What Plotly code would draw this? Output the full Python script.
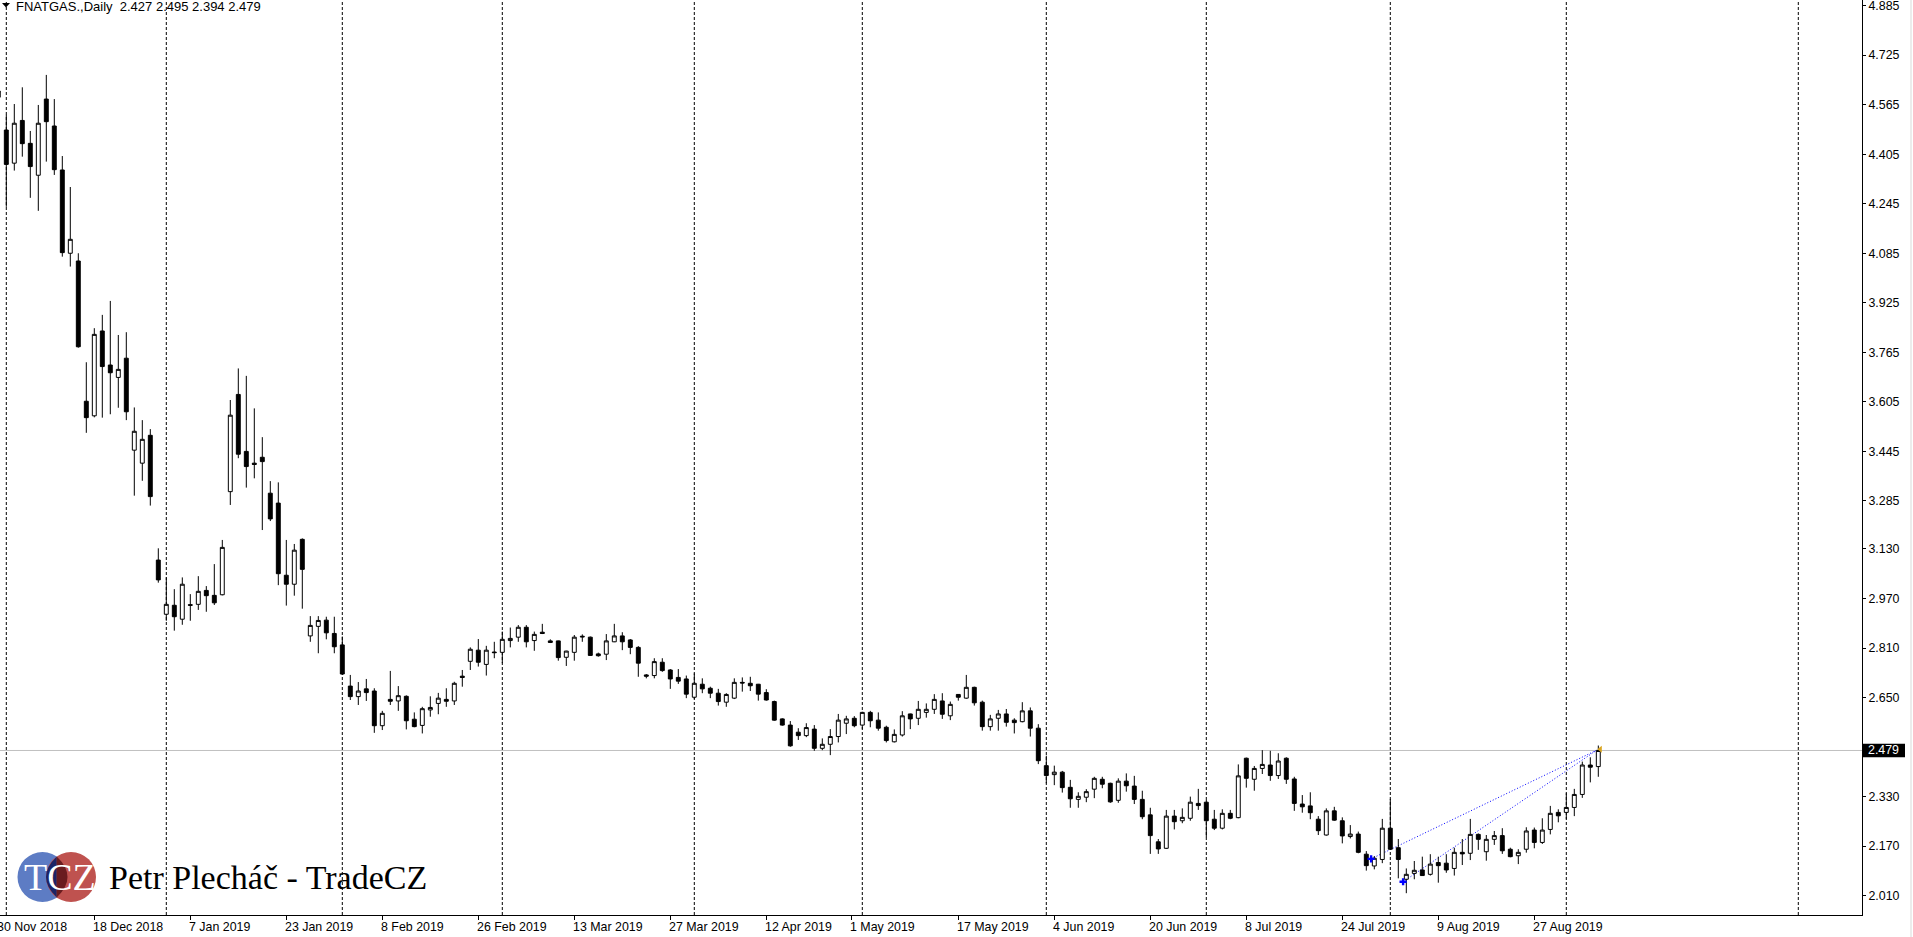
import plotly.graph_objects as go

# ---------------- data (bar index, OHLC) ----------------
FIRST_BAR = -1
OPEN = [4.589, 4.483, 4.376, 4.514, 4.440, 4.337, 4.583, 4.496, 4.354, 4.085, 4.060,
        3.607, 3.560, 3.834, 3.724, 3.684, 3.746, 3.449, 3.407, 3.497, 3.094,
        2.919, 2.948, 2.903, 2.950, 2.951, 2.996, 2.980, 2.982, 3.315, 3.629,
        3.445, 3.407, 3.426, 3.310, 3.278, 3.045, 3.016, 3.161, 2.849, 2.880,
        2.900, 2.857, 2.820, 2.687, 2.653, 2.678, 2.671, 2.559, 2.644, 2.639,
        2.654, 2.580, 2.560, 2.610, 2.631, 2.644, 2.639, 2.719, 2.767, 2.803,
        2.757, 2.797, 2.796, 2.834, 2.845, 2.877, 2.834, 2.861, 2.833, 2.833,
        2.780, 2.796, 2.848, 2.845, 2.791, 2.790, 2.830, 2.849, 2.836, 2.812,
        2.723, 2.721, 2.764, 2.739, 2.715, 2.710, 2.651, 2.693, 2.680, 2.664,
        2.635, 2.648, 2.699, 2.696, 2.693, 2.666, 2.637, 2.581, 2.561, 2.538,
        2.527, 2.548, 2.486, 2.499, 2.524, 2.567, 2.583, 2.561, 2.602, 2.577,
        2.554, 2.507, 2.529, 2.597, 2.583, 2.602, 2.612, 2.639, 2.591, 2.660,
        2.648, 2.683, 2.635, 2.556, 2.583, 2.597, 2.577, 2.572, 2.607, 2.551,
        2.430, 2.401, 2.409, 2.360, 2.321, 2.328, 2.354, 2.386, 2.373, 2.318,
        2.380, 2.364, 2.321, 2.271, 2.184, 2.163, 2.267, 2.252, 2.260, 2.308,
        2.312, 2.257, 2.228, 2.276, 2.262, 2.454, 2.386, 2.421, 2.432, 2.398,
        2.454, 2.387, 2.306, 2.300, 2.257, 2.206, 2.284, 2.252, 2.201, 2.209,
        2.144, 2.106, 2.127, 2.228, 2.165, 2.063, 2.082, 2.093, 2.079, 2.117,
        2.115, 2.098, 2.150, 2.147, 2.208, 2.152, 2.192, 2.204, 2.160, 2.139,
        2.160, 2.222, 2.182, 2.224, 2.279, 2.279, 2.295, 2.337, 2.432, 2.427]
HIGH = [4.650, 4.532, 4.567, 4.621, 4.480, 4.564, 4.661, 4.583, 4.399, 4.299, 4.085,
        3.733, 3.843, 3.886, 3.931, 3.821, 3.830, 3.587, 3.546, 3.517, 3.132,
        3.038, 3.000, 3.038, 2.984, 3.042, 3.010, 3.081, 3.159, 3.611, 3.713,
        3.689, 3.584, 3.491, 3.349, 3.345, 3.159, 3.146, 3.164, 2.913, 2.913,
        2.911, 2.911, 2.847, 2.723, 2.700, 2.710, 2.680, 2.607, 2.736, 2.687,
        2.657, 2.602, 2.620, 2.654, 2.665, 2.680, 2.701, 2.739, 2.812, 2.839,
        2.817, 2.830, 2.863, 2.876, 2.884, 2.884, 2.863, 2.888, 2.838, 2.834,
        2.801, 2.852, 2.854, 2.847, 2.795, 2.855, 2.888, 2.861, 2.839, 2.816,
        2.726, 2.777, 2.777, 2.742, 2.742, 2.721, 2.728, 2.712, 2.685, 2.678,
        2.664, 2.712, 2.715, 2.717, 2.694, 2.677, 2.640, 2.583, 2.574, 2.551,
        2.567, 2.561, 2.518, 2.548, 2.597, 2.591, 2.590, 2.604, 2.607, 2.602,
        2.559, 2.547, 2.606, 2.598, 2.639, 2.631, 2.661, 2.664, 2.637, 2.661,
        2.723, 2.685, 2.640, 2.594, 2.610, 2.613, 2.583, 2.635, 2.618, 2.564,
        2.462, 2.430, 2.413, 2.384, 2.344, 2.354, 2.394, 2.394, 2.375, 2.389,
        2.405, 2.397, 2.349, 2.294, 2.193, 2.287, 2.287, 2.292, 2.330, 2.355,
        2.319, 2.287, 2.289, 2.287, 2.434, 2.456, 2.429, 2.480, 2.478, 2.470,
        2.457, 2.394, 2.335, 2.344, 2.267, 2.292, 2.297, 2.263, 2.238, 2.217,
        2.154, 2.138, 2.258, 2.322, 2.193, 2.098, 2.122, 2.136, 2.144, 2.136,
        2.144, 2.165, 2.193, 2.258, 2.211, 2.206, 2.219, 2.228, 2.165, 2.160,
        2.231, 2.230, 2.260, 2.300, 2.289, 2.341, 2.355, 2.443, 2.457, 2.495]
LOW = [4.550, 4.235, 4.352, 4.397, 4.264, 4.222, 4.381, 4.338, 4.074, 4.042, 3.780,
       3.505, 3.555, 3.554, 3.565, 3.586, 3.546, 3.302, 3.350, 3.270, 3.021,
       2.898, 2.866, 2.885, 2.898, 2.933, 2.927, 2.949, 2.980, 3.272, 3.423,
       3.328, 3.358, 3.191, 3.220, 3.013, 2.947, 2.979, 2.937, 2.830, 2.793,
       2.838, 2.793, 2.724, 2.642, 2.626, 2.639, 2.536, 2.545, 2.626, 2.607,
       2.547, 2.554, 2.534, 2.588, 2.596, 2.620, 2.626, 2.685, 2.739, 2.750,
       2.721, 2.777, 2.761, 2.812, 2.830, 2.812, 2.801, 2.855, 2.826, 2.769,
       2.752, 2.769, 2.830, 2.785, 2.782, 2.771, 2.829, 2.803, 2.790, 2.717,
       2.712, 2.712, 2.733, 2.678, 2.694, 2.648, 2.645, 2.664, 2.648, 2.624,
       2.620, 2.645, 2.669, 2.671, 2.640, 2.640, 2.575, 2.559, 2.491, 2.513,
       2.522, 2.478, 2.480, 2.464, 2.505, 2.532, 2.554, 2.548, 2.554, 2.543,
       2.505, 2.505, 2.524, 2.548, 2.561, 2.585, 2.597, 2.581, 2.577, 2.640,
       2.646, 2.624, 2.543, 2.543, 2.543, 2.556, 2.534, 2.570, 2.524, 2.435,
       2.373, 2.367, 2.343, 2.294, 2.294, 2.312, 2.325, 2.357, 2.310, 2.310,
       2.346, 2.306, 2.257, 2.145, 2.145, 2.161, 2.224, 2.244, 2.252, 2.287,
       2.199, 2.222, 2.224, 2.257, 2.260, 2.359, 2.349, 2.403, 2.381, 2.387,
       2.371, 2.284, 2.278, 2.257, 2.206, 2.204, 2.252, 2.179, 2.195, 2.147,
       2.091, 2.095, 2.115, 2.158, 2.066, 2.018, 2.063, 2.074, 2.075, 2.052,
       2.084, 2.075, 2.109, 2.125, 2.158, 2.123, 2.174, 2.145, 2.134, 2.112,
       2.149, 2.163, 2.177, 2.208, 2.247, 2.257, 2.267, 2.326, 2.376, 2.394]
CLOSE = [4.609, 4.372, 4.505, 4.439, 4.365, 4.505, 4.510, 4.355, 4.087, 4.130, 3.783,
         3.554, 3.823, 3.719, 3.699, 3.710, 3.573, 3.510, 3.484, 3.299, 3.030,
         2.951, 2.911, 3.016, 2.948, 2.993, 2.979, 2.956, 3.135, 3.562, 3.436,
         3.396, 3.403, 3.412, 3.227, 3.050, 3.016, 3.126, 3.064, 2.883, 2.899,
         2.859, 2.814, 2.726, 2.653, 2.671, 2.666, 2.559, 2.599, 2.638, 2.656,
         2.575, 2.556, 2.614, 2.618, 2.648, 2.638, 2.696, 2.715, 2.806, 2.764,
         2.803, 2.795, 2.838, 2.841, 2.877, 2.830, 2.854, 2.857, 2.828, 2.779,
         2.800, 2.845, 2.846, 2.786, 2.785, 2.833, 2.849, 2.830, 2.812, 2.761,
         2.719, 2.766, 2.737, 2.710, 2.703, 2.661, 2.696, 2.678, 2.664, 2.637,
         2.660, 2.699, 2.697, 2.688, 2.661, 2.642, 2.577, 2.561, 2.494, 2.527,
         2.553, 2.486, 2.499, 2.524, 2.577, 2.581, 2.559, 2.602, 2.575, 2.551,
         2.511, 2.531, 2.591, 2.581, 2.612, 2.612, 2.644, 2.596, 2.628, 2.651,
         2.683, 2.633, 2.556, 2.581, 2.597, 2.570, 2.569, 2.607, 2.551, 2.446,
         2.398, 2.409, 2.359, 2.323, 2.331, 2.346, 2.389, 2.370, 2.313, 2.380,
         2.365, 2.321, 2.265, 2.204, 2.161, 2.267, 2.249, 2.263, 2.312, 2.301,
         2.252, 2.228, 2.276, 2.260, 2.397, 2.389, 2.421, 2.434, 2.398, 2.445,
         2.386, 2.308, 2.297, 2.278, 2.220, 2.284, 2.254, 2.203, 2.209, 2.150,
         2.107, 2.131, 2.228, 2.160, 2.127, 2.079, 2.092, 2.075, 2.112, 2.107,
         2.093, 2.150, 2.145, 2.208, 2.192, 2.192, 2.204, 2.155, 2.136, 2.150,
         2.219, 2.182, 2.222, 2.276, 2.268, 2.295, 2.337, 2.432, 2.425, 2.479]
BARS = list(range(FIRST_BAR, FIRST_BAR + len(OPEN)))

PRICE_TICKS = [4.885, 4.725, 4.565, 4.405, 4.245, 4.085, 3.925, 3.765, 3.605,
               3.445, 3.285, 3.130, 2.970, 2.810, 2.650, 2.330, 2.170, 2.010]
PRICE_TICK_LABELS = ["%.3f" % v for v in PRICE_TICKS]

DATE_LABELS = ["30 Nov 2018", "18 Dec 2018", "7 Jan 2019", "23 Jan 2019", "8 Feb 2019",
               "26 Feb 2019", "13 Mar 2019", "27 Mar 2019", "12 Apr 2019", "1 May 2019",
               "17 May 2019", "4 Jun 2019", "20 Jun 2019", "8 Jul 2019", "24 Jul 2019",
               "9 Aug 2019", "27 Aug 2019"]
DATE_LABEL_BARS = [-1, 11, 23, 35, 47, 59, 71, 83, 95, 105.6, 119, 131, 143, 155, 167, 179, 191]
MONTH_GRID_BARS = [0, 20, 42, 62, 86, 107, 130, 150, 173, 195, 224]

SYMBOL_TITLE = "FNATGAS.,Daily"
TRADE_OPEN_BARS = [170.6, 174.6]
TRADE_OPEN_PRICES = [2.129, 2.055]
TRADE_CLOSE_BAR = 198.8
TRADE_CLOSE_PRICE = 2.480
AUTHOR = "Petr Plecháč - TradeCZ"
LOGO_TEXT = "TCZ"

# ---------------- geometry ----------------
X_RANGE = [-0.7875, 231.9625]
Y_RANGE = [1.9476, 4.903]
PLOT_W, PLOT_H = 1862, 915
FONT = "Liberation Sans, Arial, sans-serif"
SERIF = "Liberation Serif, Times New Roman, serif"


def xp(bar):
    return (bar - X_RANGE[0]) / (X_RANGE[1] - X_RANGE[0])


def yp(price):
    return (price - Y_RANGE[0]) / (Y_RANGE[1] - Y_RANGE[0])


fig = go.Figure()
fig.add_trace(go.Candlestick(
    x=BARS, open=OPEN, high=HIGH, low=LOW, close=CLOSE,
    increasing=dict(line=dict(color="black", width=1), fillcolor="white"),
    decreasing=dict(line=dict(color="black", width=1), fillcolor="black"),
    whiskerwidth=0, showlegend=False, hoverinfo="skip"))

# trade open markers and close marker
fig.add_trace(go.Scatter(x=TRADE_OPEN_BARS, y=TRADE_OPEN_PRICES, mode="markers",
                         marker=dict(symbol="cross", size=6, color="#0000ff"),
                         showlegend=False, hoverinfo="skip"))
fig.add_trace(go.Scatter(x=[BARS[-1] + 0.25], y=[CLOSE[-1] + 0.004], mode="markers",
                         marker=dict(symbol="triangle-left", size=6, color="#DAA520"),
                         showlegend=False, hoverinfo="skip"))

shapes = []
# month grid lines
for b in MONTH_GRID_BARS:
    shapes.append(dict(type="line", xref="x", yref="paper", x0=b, x1=b, y0=0, y1=1,
                       line=dict(color="black", width=1, dash="3px,2px"), layer="below"))
# current price line
cur = CLOSE[-1]
shapes.append(dict(type="line", xref="paper", yref="y", x0=0, x1=1, y0=cur, y1=cur,
                   line=dict(color="#c0c0c0", width=1), layer="below"))
# trade lines
for ob, op in zip(TRADE_OPEN_BARS, TRADE_OPEN_PRICES):
    shapes.append(dict(type="line", xref="x", yref="y", x0=ob, y0=op,
                       x1=TRADE_CLOSE_BAR, y1=TRADE_CLOSE_PRICE,
                       line=dict(color="#0000ff", width=1, dash="1px,2px"), layer="below"))
# price label box
shapes.append(dict(type="rect", xref="paper", xsizemode="pixel", xanchor=1, x0=0.5, x1=43,
                   yref="paper", ysizemode="pixel", yanchor=yp(cur), y0=-6.7, y1=6.7,
                   fillcolor="black", line=dict(width=0)))
# header triangle
shapes.append(dict(type="path", xref="paper", xsizemode="pixel", xanchor=0,
                   yref="paper", ysizemode="pixel", yanchor=1,
                   path="M 2 -3 L 10 -3 L 6 -7.5 Z", fillcolor="black", line=dict(width=0)))
# window border on far right
shapes.append(dict(type="line", xref="paper", yref="paper", x0=1911 / PLOT_W, x1=1911 / PLOT_W,
                   y0=-22 / PLOT_H, y1=1, line=dict(color="#d9d9d9", width=1)))
# logo
logo = dict(xref="paper", xsizemode="pixel", xanchor=0, yref="paper", ysizemode="pixel", yanchor=0)
shapes.append(dict(type="circle", x0=17.5, x1=67.5, y0=13, y1=63, fillcolor="#5d7cc4",
                   line=dict(width=0), **logo))
shapes.append(dict(type="circle", x0=46, x1=96, y0=13, y1=63, fillcolor="#bf524f",
                   line=dict(width=0), **logo))
shapes.append(dict(type="path", path="M 56.75 58.5 Q 35.25 38 56.75 17.5 Z",
                   fillcolor="#1c2466", line=dict(width=0), **logo))
shapes.append(dict(type="path", path="M 56.75 58.5 Q 78.25 38 56.75 17.5 Z",
                   fillcolor="#6a1c1f", line=dict(width=0), **logo))

annotations = []
for lab, b in zip(DATE_LABELS, DATE_LABEL_BARS):
    annotations.append(dict(text=lab, xref="paper", yref="paper", x=xp(b), y=0,
                            xanchor="left", yanchor="middle", xshift=-3, yshift=-11.5,
                            showarrow=False, font=dict(family=FONT, size=12.4, color="black")))
annotations.append(dict(text="%.3f" % cur, xref="paper", yref="paper", x=1, y=yp(cur),
                        xanchor="center", yanchor="middle", xshift=21.7,
                        showarrow=False, font=dict(family=FONT, size=12.4, color="white")))
header = SYMBOL_TITLE + "\u00a0\u00a0" + " ".join("%.3f" % v for v in
                                                 (OPEN[-1], HIGH[-1], LOW[-1], CLOSE[-1]))
annotations.append(dict(text=header, xref="paper", yref="paper", x=0, y=1,
                        xanchor="left", yanchor="middle", xshift=14, yshift=-6,
                        showarrow=False, font=dict(family=FONT, size=13, color="black")))
annotations.append(dict(text=LOGO_TEXT, xref="paper", yref="paper", x=60 / PLOT_W,
                        y=(915 - 877) / PLOT_H, xanchor="center", yanchor="middle",
                        showarrow=False, font=dict(family=SERIF, size=38, color="white")))
annotations.append(dict(text=AUTHOR, xref="paper", yref="paper", x=109 / PLOT_W,
                        y=(915 - 877) / PLOT_H, xanchor="left", yanchor="middle", xshift=-2,
                        showarrow=False, font=dict(family=SERIF, size=34, color="black")))

fig.update_layout(
    width=1913, height=937,
    margin=dict(l=0, r=51, t=0, b=22, pad=0),
    paper_bgcolor="white", plot_bgcolor="white",
    showlegend=False,
    shapes=shapes, annotations=annotations,
    xaxis=dict(range=X_RANGE, showgrid=False, zeroline=False, showline=True,
               linecolor="black", linewidth=1, ticks="outside", ticklen=4,
               tickcolor="black", tickwidth=1, tickvals=DATE_LABEL_BARS,
               ticktext=[""] * len(DATE_LABEL_BARS),
               rangeslider=dict(visible=False), fixedrange=True),
    yaxis=dict(side="right", range=Y_RANGE, showgrid=False, zeroline=False,
               showline=True, linecolor="black", linewidth=1, ticks="outside",
               ticklen=3, tickcolor="black", tickwidth=1,
               tickvals=PRICE_TICKS, ticktext=PRICE_TICK_LABELS, ticklabeloverflow="allow",
               tickfont=dict(family=FONT, size=12.4, color="black"), fixedrange=True),
)

fig.write_html("out.html", config={"displayModeBar": False},
               post_script="document.body.style.margin='0';document.body.style.overflow='hidden';")
